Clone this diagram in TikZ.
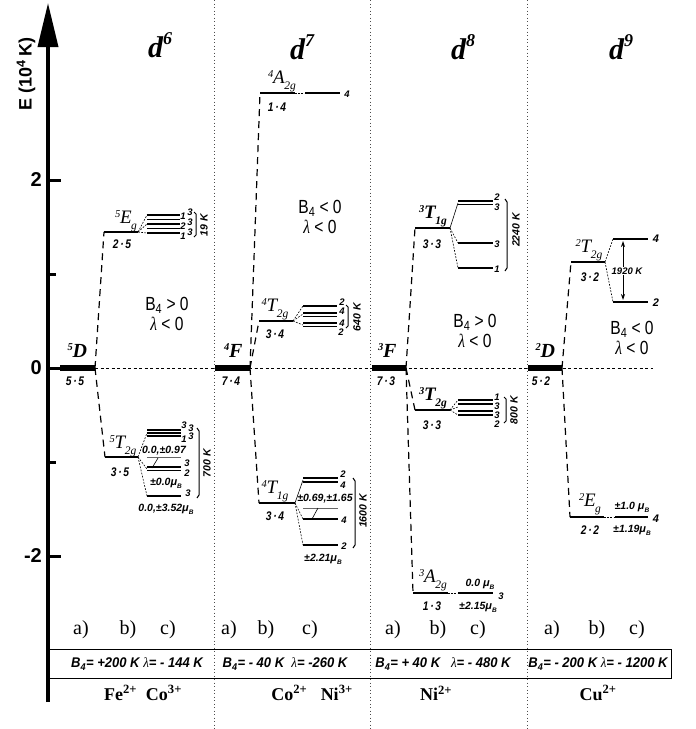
\documentclass[tikz,border=0pt]{standalone}
\usepackage{fontspec}
\setmainfont{Liberation Serif}
\setsansfont{Liberation Sans}
\usetikzlibrary{arrows.meta}
\newcommand{\Tm}[3]{\raisebox{0.32em}{\fontsize{10.5}{10.5}\selectfont #1}\kern-0.3pt #2\kern-0.5pt\raisebox{-0.33em}{\fontsize{11.5}{11.5}\selectfont #3}}
\newcommand{\muB}{{\fontsize{11}{11}\selectfont μ}\raisebox{-0.3em}{\fontsize{6.5}{6.5}\selectfont B}}
\newcommand{\lam}{{\rmfamily\itshape\mdseries λ}}
\newcommand{\nar}[1]{\scalebox{0.82}[1]{#1}}
\tikzset{
  gnd/.style={line width=6pt},
  lvl/.style={line width=2.8pt},
  sublvl/.style={line width=1.7pt},
  thinlvl/.style={line width=0.8pt, black!60},
  dsh/.style={line width=1.2pt, dash pattern=on 7pt off 5pt},
  fan/.style={line width=0.6pt, dash pattern=on 1.8pt off 1.4pt},
  fansolid/.style={line width=0.6pt},
  zero/.style={line width=0.7pt, dash pattern=on 3pt off 2.5pt},
  sep/.style={line width=0.9pt, dash pattern=on 0.9pt off 2.6pt, black!70},
  term/.style={font=\fontsize{19}{19}\selectfont\itshape, inner sep=0pt},
  bterm/.style={font=\fontsize{20}{20}\selectfont\bfseries\itshape, inner sep=0pt},
  degl/.style={font=\fontsize{12.5}{12.5}\selectfont\sffamily\bfseries\itshape, inner sep=0pt},
  nl/.style={font=\fontsize{9.5}{9.5}\selectfont\sffamily\bfseries\itshape, inner sep=0pt},
  valt/.style={font=\fontsize{10.5}{10.5}\selectfont\sffamily\bfseries\itshape, inner sep=0pt},
  cond/.style={font=\fontsize{19}{19}\selectfont\sffamily, inner sep=0pt},
  title/.style={font=\fontsize{30}{30}\selectfont\bfseries\itshape, inner sep=0pt},
  abc/.style={font=\fontsize{20}{20}\selectfont, inner sep=0pt},
  boxt/.style={font=\fontsize{14}{14}\selectfont\sffamily\bfseries\itshape, inner sep=0pt},
  ion/.style={font=\fontsize{18}{18}\selectfont\bfseries, inner sep=0pt},
  brk/.style={line width=1pt},
  rot/.style={font=\fontsize{10.5}{10.5}\selectfont\sffamily\bfseries\itshape, inner sep=0pt, rotate=90},
  axl/.style={font=\fontsize{20}{20}\selectfont\sffamily\bfseries, inner sep=0pt},
}
\begin{document}
\begin{tikzpicture}[x=1pt,y=-1pt]
\useasboundingbox (0,0) rectangle (696,729);
% separators
\foreach \x in {214,370,527} \draw[sep] (\x,0) -- (\x,729);
% zero line
\coordinate (z0) at (95,368);
\coordinate (z1) at (653,368);
\draw[zero] (z0) -- (z1);
% axis
\coordinate (axB) at (48,702);
\coordinate (axT) at (48,3);
\draw[line width=3.6pt, -{Triangle[length=44pt,width=20pt]}] (axB) -- (axT);
\foreach \y/\l in {180/2,368/0,556/-2} {
  \draw[line width=3pt] (48,\y) -- (61,\y);
  \node[axl, anchor=east] (tk\y) at (42,\y) {\l};
}
\foreach \y in {274,462} \draw[line width=3pt] (48,\y) -- (56,\y);
\node[rotate=90, inner sep=0pt, font=\fontsize{18}{18}\selectfont\sffamily\bfseries] (elab) at (26,74) {E (10\textsuperscript{4}\,K)};
% titles
\node[title] (t6) at (160,45) {d\raisebox{0.42em}{\fontsize{18}{18}\selectfont 6}};
\node[title] (t7) at (302,47) {d\raisebox{0.42em}{\fontsize{18}{18}\selectfont 7}};
\node[title] (t8) at (463,47) {d\raisebox{0.42em}{\fontsize{18}{18}\selectfont 8}};
\node[title] (t9) at (621,47) {d\raisebox{0.42em}{\fontsize{18}{18}\selectfont 9}};

%%%%%%%%%%%%%% d6
\coordinate (g6l) at (60,368); \coordinate (g6r) at (95,368);
\draw[gnd] (g6l) -- (g6r);
\node[bterm] (g6t) at (77,354) {\Tm{5}{D}{}};
\node[degl] (g6d) at (75,381) {\nar{5\,·\,5}};
\coordinate (e6l) at (104,232); \coordinate (e6r) at (138,232);
\draw[lvl] (e6l) -- (e6r);
\draw[dsh] (g6r) -- (e6l);
\node[term] (e6t) at (126,221) {\Tm{5}{E}{g}};
\node[degl] (e6d) at (122,244) {\nar{2\,·\,5}};
\foreach \y in {215,219.5,224,228.5,233} \draw[sublvl] (147,\y) -- (180,\y);
\coordinate (e6a) at (147,215); \coordinate (e6b) at (147,224); \coordinate (e6c) at (147,233);
\draw[fan] (e6r) -- (e6a); \draw[fan] (e6r) -- (e6b); \draw[fan] (e6r) -- (e6c);
\node[nl] (n61) at (183,216) {1}; \node[nl] (n62) at (190,212) {3};
\node[nl] (n63) at (183,226) {2}; \node[nl] (n64) at (190,222) {3};
\node[nl] (n65) at (183,236) {1}; \node[nl] (n66) at (190,232) {3};
\draw[brk] (194,212) -- (196,214) -- (196,235) -- (194,237);
\node[rot] (k6a) at (204,225) {19 K};
% T2g
\coordinate (t6l) at (105,457); \coordinate (t6r) at (138,457);
\draw[lvl] (t6l) -- (t6r);
\draw[dsh] (g6r) -- (t6l);
\node[term] (t6t) at (123,446) {\Tm{5}{T}{2g}};
\node[degl] (t6d) at (120,472) {\nar{3\,·\,5}};
\foreach \y in {430,433,436} \draw[sublvl] (147,\y) -- (181,\y);
\draw[thinlvl] (147,457) -- (181,457);
\foreach \y in {467,470.5} \draw[sublvl] (147,\y) -- (181,\y);
\draw[sublvl] (147,496) -- (181,496);
\coordinate (t6a) at (147,433); \coordinate (t6b) at (147,469); \coordinate (t6c) at (147,496);
\draw[fan] (t6r) -- (t6a); \draw[fan] (t6r) -- (t6b); \draw[fan] (t6r) -- (t6c);
\coordinate (s6a) at (152,468); \coordinate (s6b) at (158,458);
\draw[line width=0.6pt] (s6a) -- (s6b);
\node[nl] (n67) at (184,425) {3}; \node[nl] (n68) at (191,428.5) {3};
\node[nl] (n69) at (184,439.5) {1}; \node[nl] (n610) at (191,436.5) {3};
\node[valt] (v61) at (164,451) {0.0,±0.97};
\node[nl] (n611) at (187,463) {3}; \node[nl] (n612) at (187,473) {2};
\node[valt] (v62) at (166,483) {±0.0\muB};
\node[nl] (n613) at (188,493) {3};
\node[valt] (v63) at (166,509) {0.0,±3.52\muB};
\draw[brk] (197,428) -- (199,431) -- (199,495) -- (197,498);
\node[rot] (k6b) at (207,463) {700 K};
\node[cond] (c6a) at (167,305) {\nar{B\textsubscript{4} > 0}};
\node[cond] (c6b) at (167,324) {\nar{\lam\ < 0}};

%%%%%%%%%%%%%% d7
\coordinate (g7l) at (215,368); \coordinate (g7r) at (250,368);
\draw[gnd] (g7l) -- (g7r);
\node[bterm] (g7t) at (233,354) {\Tm{4}{F}{}};
\node[degl] (g7d) at (231,381) {\nar{7\,·\,4}};
\coordinate (a7l) at (260,93); \coordinate (a7r) at (295,93);
\draw[lvl] (a7l) -- (a7r);
\draw[dsh] (g7r) -- (a7l);
\node[term] (a7t) at (282,81) {\Tm{4}{A}{2g}};
\node[degl] (a7d) at (277,107) {\nar{1\,·\,4}};
\coordinate (a7sl) at (305,93); \coordinate (a7sr) at (340,93);
\draw[fan] (a7r) -- (a7sl);
\draw[sublvl] (a7sl) -- (a7sr);
\node[nl] (n71) at (347,94) {4};
% T2g
\coordinate (u7l) at (259,321); \coordinate (u7r) at (293,321);
\draw[lvl] (u7l) -- (u7r);
\draw[dsh] (g7r) -- (u7l);
\node[term] (u7t) at (275,309) {\Tm{4}{T}{2g}};
\node[degl] (u7d) at (275,334) {\nar{3\,·\,4}};
\foreach \y in {306,313,316.5,323,326.5} \draw[sublvl] (303,\y) -- (337,\y);
\coordinate (u7a) at (303,306); \coordinate (u7b) at (303,314); \coordinate (u7c) at (303,325);
\draw[fan] (u7r) -- (u7a); \draw[fan] (u7r) -- (u7b); \draw[fan] (u7r) -- (u7c);
\node[nl] (n72) at (342,302) {2}; \node[nl] (n73) at (342,311) {4};
\node[nl] (n74) at (342,323) {4}; \node[nl] (n75) at (341,332) {2};
\draw[brk] (346,305) -- (348,307) -- (348,326) -- (346,328);
\node[rot] (k7a) at (357,317) {640 K};
% T1g
\coordinate (w7l) at (259,503); \coordinate (w7r) at (295,503);
\draw[lvl] (w7l) -- (w7r);
\draw[dsh] (g7r) -- (w7l);
\node[term] (w7t) at (275,491) {\Tm{4}{T}{1g}};
\node[degl] (w7d) at (275,516) {\nar{3\,·\,4}};
\foreach \y in {478,482} \draw[sublvl] (303,\y) -- (338,\y);
\draw[thinlvl] (303,508) -- (338,508);
\draw[sublvl] (303,519) -- (338,519);
\draw[sublvl] (303,545) -- (338,545);
\coordinate (w7a) at (303,480); \coordinate (w7b) at (303,519); \coordinate (w7c) at (303,545);
\draw[fansolid] (w7r) -- (w7a); \draw[fan] (w7r) -- (w7b); \draw[fan] (w7r) -- (w7c);
\coordinate (s7a) at (312,519); \coordinate (s7b) at (318,508);
\draw[line width=0.6pt] (s7a) -- (s7b);
\node[nl] (n76) at (343,474) {2}; \node[nl] (n77) at (343,485) {4};
\node[valt] (v71) at (325,499) {±0.69,±1.65};
\node[nl] (n78) at (344,520) {4}; \node[nl] (n79) at (344,546) {2};
\node[valt] (v72) at (323,559) {±2.21\muB};
\draw[brk] (353,478) -- (355,481) -- (355,545) -- (353,548);
\node[rot] (k7b) at (363,511) {1600 K};
\node[cond] (c7a) at (320,208) {\nar{B\textsubscript{4} < 0}};
\node[cond] (c7b) at (320,227) {\nar{\lam\ < 0}};

%%%%%%%%%%%%%% d8
\coordinate (g8l) at (372,368); \coordinate (g8r) at (406,368);
\draw[gnd] (g8l) -- (g8r);
\node[bterm] (g8t) at (387,354) {\Tm{3}{F}{}};
\node[degl] (g8d) at (386,381) {\nar{7\,·\,3}};
\coordinate (p8l) at (415,228); \coordinate (p8r) at (450,228);
\draw[lvl] (p8l) -- (p8r);
\draw[dsh] (g8r) -- (p8l);
\node[bterm, font=\fontsize{19}{19}\selectfont\bfseries\itshape] (p8t) at (433,216) {\Tm{3}{T}{1g}};
\node[degl] (p8d) at (432,244) {\nar{3\,·\,3}};
\foreach \y in {201,204.5} \draw[sublvl] (458,\y) -- (493,\y);
\draw[sublvl] (458,243) -- (493,243);
\draw[sublvl] (458,268) -- (493,268);
\coordinate (p8a) at (458,203); \coordinate (p8b) at (458,243); \coordinate (p8c) at (458,268);
\draw[fansolid] (p8r) -- (p8a); \draw[fan] (p8r) -- (p8b); \draw[fan] (p8r) -- (p8c);
\node[nl] (n81) at (497,197) {2}; \node[nl] (n82) at (497,207) {3};
\node[nl] (n83) at (497,244) {3}; \node[nl] (n84) at (497,269) {1};
\draw[brk] (505,199) -- (507,202) -- (507,268) -- (505,271);
\node[rot] (k8a) at (516,230) {2240 K};
\node[cond] (c8a) at (475,322) {\nar{B\textsubscript{4} > 0}};
\node[cond] (c8b) at (475,341) {\nar{\lam\ < 0}};
% T2g
\coordinate (q8l) at (415,410); \coordinate (q8r) at (450,410);
\draw[lvl] (q8l) -- (q8r);
\draw[dsh] (g8r) -- (q8l);
\node[bterm, font=\fontsize{19}{19}\selectfont\bfseries\itshape] (q8t) at (433,398) {\Tm{3}{T}{2g}};
\node[degl] (q8d) at (432,425) {\nar{3\,·\,3}};
\foreach \y in {400,404,411,415} \draw[sublvl] (458,\y) -- (493,\y);
\coordinate (q8a) at (458,400); \coordinate (q8b) at (458,407); \coordinate (q8c) at (458,415);
\draw[fan] (q8r) -- (q8a); \draw[fan] (q8r) -- (q8b); \draw[fan] (q8r) -- (q8c);
\node[nl] (n85) at (497,397) {1}; \node[nl] (n86) at (497,406) {3};
\node[nl] (n87) at (497,415) {3}; \node[nl] (n88) at (497,424) {2};
\draw[brk] (504,397) -- (506,399) -- (506,421) -- (504,423);
\node[rot] (k8b) at (514,410) {800 K};
% A2g
\coordinate (r8l) at (413,593); \coordinate (r8r) at (448,593);
\draw[lvl] (r8l) -- (r8r);
\draw[dsh] (g8r) -- (r8l);
\node[term] (r8t) at (433,580) {\Tm{3}{A}{2g}};
\node[degl] (r8d) at (432,606) {\nar{1\,·\,3}};
\coordinate (r8sl) at (458,593); \coordinate (r8sr) at (493,593);
\draw[fan] (r8r) -- (r8sl);
\draw[sublvl] (r8sl) -- (r8sr);
\node[valt] (v81) at (480,584) {0.0 \muB};
\node[valt] (v82) at (478,607) {±2.15\muB};
\node[nl] (n89) at (501,596) {3};

%%%%%%%%%%%%%% d9
\coordinate (g9l) at (528,368); \coordinate (g9r) at (562,368);
\draw[gnd] (g9l) -- (g9r);
\node[bterm] (g9t) at (545,354) {\Tm{2}{D}{}};
\node[degl] (g9d) at (541,381) {\nar{5\,·\,2}};
\coordinate (h9l) at (571,262); \coordinate (h9r) at (605,262);
\draw[lvl] (h9l) -- (h9r);
\draw[dsh] (g9r) -- (h9l);
\node[term] (h9t) at (589,250) {\Tm{2}{T}{2g}};
\node[degl] (h9d) at (590,277) {\nar{3\,·\,2}};
\coordinate (h9al) at (613,239); \coordinate (h9ar) at (648,239);
\coordinate (h9bl) at (613,302); \coordinate (h9br) at (648,302);
\draw[sublvl] (h9al) -- (h9ar);
\draw[sublvl] (h9bl) -- (h9br);
\draw[fan] (h9r) -- (h9al); \draw[fan] (h9r) -- (h9bl);
\coordinate (ar1) at (623,241); \coordinate (ar2) at (623,300);
\draw[line width=0.8pt, {Stealth[length=6pt,width=4pt]}-{Stealth[length=6pt,width=4pt]}] (ar1) -- (ar2);
\node[valt, fill=white, inner sep=1pt, font=\fontsize{9.5}{9.5}\selectfont\sffamily\bfseries\itshape] (k9) at (627,271) {1920 K};
\node[nl, font=\fontsize{11}{11}\selectfont\sffamily\bfseries\itshape] (n91) at (656,239) {4};
\node[nl, font=\fontsize{11}{11}\selectfont\sffamily\bfseries\itshape] (n92) at (656,303) {2};
\node[cond] (c9a) at (632,329) {\nar{B\textsubscript{4} < 0}};
\node[cond] (c9b) at (632,348) {\nar{\lam\ < 0}};
% Eg
\coordinate (m9l) at (570,517); \coordinate (m9r) at (604,517);
\draw[lvl] (m9l) -- (m9r);
\draw[dsh] (g9r) -- (m9l);
\node[term] (m9t) at (590,504) {\Tm{2}{E}{g}};
\node[degl] (m9d) at (590,530) {\nar{2\,·\,2}};
\coordinate (m9sl) at (615,517); \coordinate (m9sr) at (648,517);
\draw[fan] (m9r) -- (m9sl);
\draw[sublvl] (m9sl) -- (m9sr);
\node[valt] (v91) at (632,507) {±1.0 \muB};
\node[valt] (v92) at (632,530) {±1.19\muB};
\node[nl, font=\fontsize{11}{11}\selectfont\sffamily\bfseries\itshape] (n93) at (656,519) {4};

%%%%%%%%%%%%%% bottom
\foreach \x/\l/\n in {81/a)/a6,128/b)/b6,168/c)/c6,229/a)/a7,266/b)/b7,310/c)/c7,393/a)/a8,438/b)/b8,478/c)/c8,552/a)/a9,597/b)/b9,637/c)/c9}
  \node[abc] (\n) at (\x,630) {\l};
\coordinate (bx1) at (48,649); \coordinate (bx2) at (671,678);
\draw[line width=0.8pt] (bx1) rectangle (bx2);
\node[boxt] (bt6) at (137,664) {\scalebox{0.93}[1]{B\textsubscript{4}= +200 K \lam= - 144 K}};
\node[boxt] (bt7) at (285,664) {\scalebox{0.93}[1]{B\textsubscript{4}= - 40 K \ \lam= -260 K}};
\node[boxt] (bt8) at (443,664) {\scalebox{0.93}[1]{B\textsubscript{4}= + 40 K \ \ \lam= - 480 K}};
\node[boxt] (bt9) at (598,664) {\scalebox{0.93}[1]{B\textsubscript{4}= - 200 K \lam= - 1200 K}};
\node[ion] (i6) at (143,693) {Fe\textsuperscript{2+}\ \ Co\textsuperscript{3+}};
\node[ion] (i7) at (312,693) {Co\textsuperscript{2+}\ \ \ Ni\textsuperscript{3+}};
\node[ion] (i8) at (436,693) {Ni\textsuperscript{2+}};
\node[ion] (i9) at (598,693) {Cu\textsuperscript{2+}};
\end{tikzpicture}
\end{document}
